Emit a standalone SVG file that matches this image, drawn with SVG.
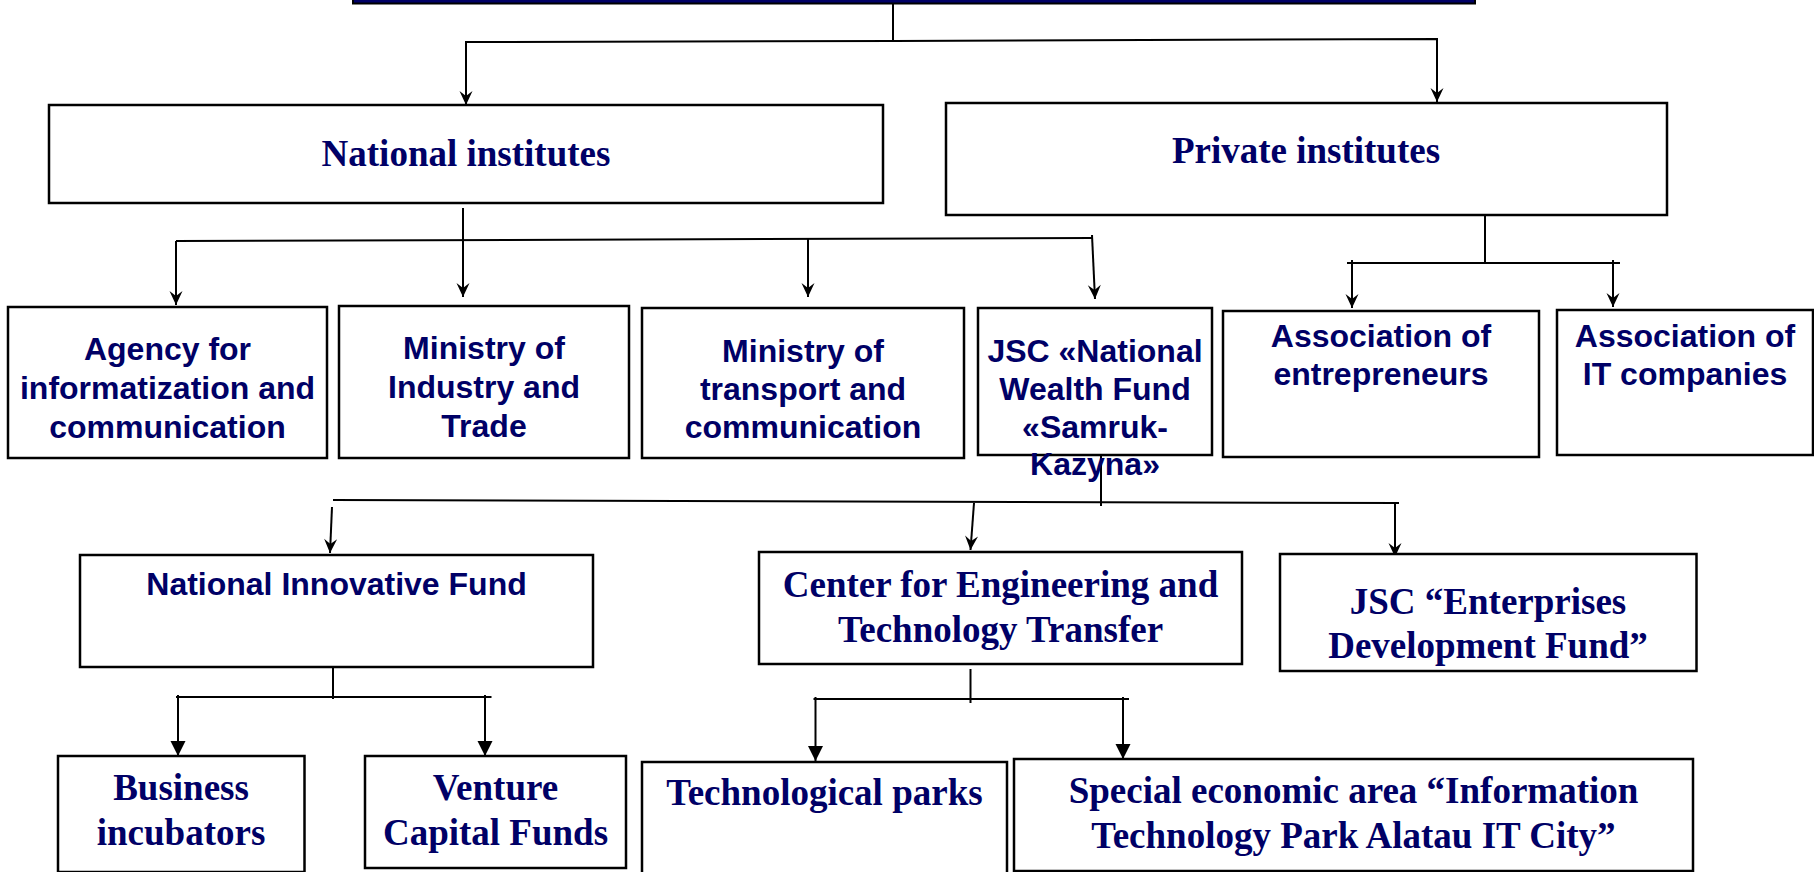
<svg xmlns="http://www.w3.org/2000/svg" width="1814" height="872" viewBox="0 0 1814 872">
<style>
.box{fill:#fff;stroke:#000;stroke-width:2.5}
.sans{font-family:"Liberation Sans",Arial,sans-serif;font-weight:bold;font-size:32px;fill:#000066;text-anchor:middle}
.serif{font-family:"Liberation Serif","Times New Roman",serif;font-weight:bold;font-size:37px;fill:#000066;text-anchor:middle}
.ln{fill:none;stroke:#000;stroke-width:2}
.a1{marker-end:url(#stealth)}
.a2{marker-end:url(#tri)}
</style>
<defs>
<marker id="stealth" markerUnits="userSpaceOnUse" viewBox="-15 -8 16 16" refX="0" refY="0" markerWidth="16" markerHeight="16" orient="auto">
<path d="M0,0 L-14,-6.5 L-9,0 L-14,6.5 Z" fill="#000"/>
</marker>
<marker id="tri" markerUnits="userSpaceOnUse" viewBox="-16 -8 17 16" refX="0" refY="0" markerWidth="17" markerHeight="16" orient="auto">
<path d="M0,0 L-15,-7.5 L-15,7.5 Z" fill="#000"/>
</marker>
</defs>
<rect id="top-bar" x="353" y="-10" width="1122" height="13.5" fill="#000066" stroke="#000" stroke-width="2"/>
<g id="connectors">
<path class="ln" d="M893,4 L893,41"/>
<path class="ln a1" d="M893,41 L466,42 L466,105"/>
<path class="ln a1" d="M893,41 L1437,39 L1437,102"/>
<path class="ln a1" d="M463,208 L463,297"/>
<path class="ln" d="M176,241 L1092,238"/>
<path class="ln a1" d="M176,241 L176,305"/>
<path class="ln a1" d="M808,239 L808,297"/>
<path class="ln a1" d="M1092,235 L1095,299"/>
<path class="ln" d="M1485,215 L1485,263"/>
<path class="ln" d="M1347,263 L1620,263"/>
<path class="ln a1" d="M1352,260 L1352,308"/>
<path class="ln a1" d="M1613,260 L1613,307"/>
<path class="ln" d="M1101,455 L1101,506"/>
<path class="ln" d="M333,500 L1399,503"/>
<path class="ln a1" d="M332,507 L330,553"/>
<path class="ln a1" d="M974,503 L970.5,550"/>
<path class="ln a1" d="M1395,503 L1395,557"/>
<path class="ln" d="M333,667 L333,699"/>
<path class="ln" d="M176,697 L491.5,697"/>
<path class="ln a2" d="M178,695 L178,756"/>
<path class="ln a2" d="M485,695 L485,756"/>
<path class="ln" d="M970.5,669 L970.5,703"/>
<path class="ln" d="M813.5,699 L1129,699"/>
<path class="ln a2" d="M815.5,697 L815.5,761"/>
<path class="ln a2" d="M1123,697 L1123,759"/>
</g>
<g id="national-institutes">
<rect class="box" x="49" y="105" width="834" height="98"/>
<text class="serif" x="466" y="166">National institutes</text>
</g>
<g id="private-institutes">
<rect class="box" x="946" y="103" width="721" height="112"/>
<text class="serif" x="1306" y="163">Private institutes</text>
</g>
<g id="agency">
<rect class="box" x="8" y="307" width="319" height="151"/>
<text class="sans" x="167.5" y="360">Agency for</text>
<text class="sans" x="167.5" y="399">informatization and</text>
<text class="sans" x="167.5" y="438">communication</text>
</g>
<g id="ministry-industry">
<rect class="box" x="339" y="306" width="290" height="152"/>
<text class="sans" x="484" y="359">Ministry of</text>
<text class="sans" x="484" y="398">Industry and</text>
<text class="sans" x="484" y="437">Trade</text>
</g>
<g id="ministry-transport">
<rect class="box" x="642" y="308" width="322" height="150"/>
<text class="sans" x="803" y="362">Ministry of</text>
<text class="sans" x="803" y="400">transport and</text>
<text class="sans" x="803" y="438">communication</text>
</g>
<g id="samruk-kazyna">
<rect class="box" x="978" y="308" width="234" height="147"/>
<text class="sans" x="1095" y="362">JSC «National</text>
<text class="sans" x="1095" y="400">Wealth Fund</text>
<text class="sans" x="1095" y="438">«Samruk-</text>
<text class="sans" x="1095" y="475">Kazyna»</text>
</g>
<g id="assoc-entrepreneurs">
<rect class="box" x="1223" y="311" width="316" height="146"/>
<text class="sans" x="1381" y="347">Association of</text>
<text class="sans" x="1381" y="385">entrepreneurs</text>
</g>
<g id="assoc-it">
<rect class="box" x="1557" y="310" width="256" height="145"/>
<text class="sans" x="1685" y="347">Association of</text>
<text class="sans" x="1685" y="385">IT companies</text>
</g>
<g id="national-innovative-fund">
<rect class="box" x="80" y="555" width="513" height="112"/>
<text class="sans" x="336.5" y="595">National Innovative Fund</text>
</g>
<g id="cett">
<rect class="box" x="759" y="552" width="483" height="112"/>
<text class="serif" x="1000.5" y="597">Center for Engineering and</text>
<text class="serif" x="1000.5" y="642">Technology Transfer</text>
</g>
<g id="jsc-edf">
<rect class="box" x="1280" y="554" width="416.5" height="117"/>
<text class="serif" x="1488" y="614">JSC “Enterprises</text>
<text class="serif" x="1488" y="658">Development Fund”</text>
</g>
<g id="business-incubators">
<rect class="box" x="58" y="756" width="246.5" height="116"/>
<text class="serif" x="181" y="800">Business</text>
<text class="serif" x="181" y="845">incubators</text>
</g>
<g id="venture-capital">
<rect class="box" x="365" y="756" width="261" height="112"/>
<text class="serif" x="495.5" y="800">Venture</text>
<text class="serif" x="495.5" y="845">Capital Funds</text>
</g>
<g id="tech-parks">
<rect class="box" x="642" y="762" width="365" height="120"/>
<text class="serif" x="824.5" y="805">Technological parks</text>
</g>
<g id="special-economic-area">
<rect class="box" x="1014" y="759" width="679" height="112"/>
<text class="serif" x="1353.5" y="803">Special economic area “Information</text>
<text class="serif" x="1353.5" y="848">Technology Park Alatau IT City”</text>
</g>
</svg>
